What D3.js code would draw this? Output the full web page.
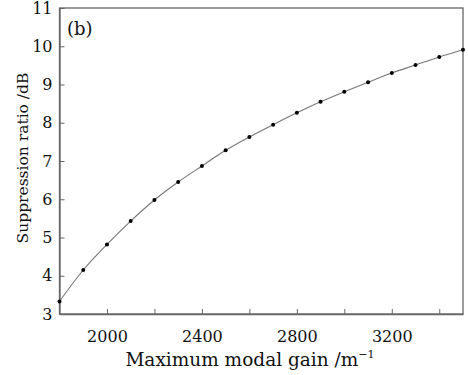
<!DOCTYPE html>
<html>
  <head>
    <meta charset="utf-8">
    <title>Suppression ratio vs modal gain</title>
    <script src="https://d3js.org/d3.v7.min.js"></script>
    <style>
      body { margin: 0; background: #fff; }
      text { font-family: "DejaVu Serif", serif; fill: #111; }
    </style>
  </head>
  <body>
    <div id="vis"></div>
    <script>
        const width = 468;
        const height = 375;

        // values
        const gain = [1800, 1900, 2000, 2100, 2200, 2300, 2400, 2500, 2600,
                      2700, 2800, 2900, 3000, 3100, 3200, 3300, 3400, 3500];
        const ratio = [3.33, 4.15, 4.82, 5.43, 5.98, 6.45, 6.87, 7.28, 7.63,
                       7.95, 8.26, 8.55, 8.81, 9.06, 9.30, 9.51, 9.72, 9.91];
        const xTicks = [2000, 2200, 2400, 2600, 2800, 3000, 3200, 3400];
        const xLabels = [2000, 2400, 2800, 3200];
        const yTicks = [3, 4, 5, 6, 7, 8, 9, 10, 11];

        const margin = {top: 8, right: 5, bottom: 61, left: 59.5};

        const points = gain.map((g, i) => ({g: g, r: ratio[i]}));

        let vis = d3.select('#vis')
                    .append('svg')
                    .attr('width', width)
                    .attr('height', height);

        const x = d3.scaleLinear().domain([1800, 3500])
                    .range([margin.left, width - margin.right]);
        const y = d3.scaleLinear().domain([3, 11])
                    .range([height - margin.bottom, margin.top]);

        // frame
        vis.append("rect")
           .attr("x", x(1800))
           .attr("y", y(11))
           .attr("width", x(3500) - x(1800))
           .attr("height", y(3) - y(11))
           .attr("fill", "none")
           .attr("stroke", "#666")
           .attr("stroke-width", 1.3);

        // x axis, ticks pointing inward
        const xAxis = vis.append("g")
           .attr("transform", `translate(0,${y(3)})`)
           .call(d3.axisBottom(x).tickValues(xTicks).tickSizeInner(-5).tickSizeOuter(0)
                   .tickFormat(d => xLabels.includes(d) ? d : ""));
        xAxis.select(".domain").attr("stroke", "#666").attr("stroke-width", 1.3);
        xAxis.selectAll(".tick line").attr("stroke", "#666");
        xAxis.selectAll("text").attr("font-size", 16).attr("y", 17);

        // y axis
        const yAxis = vis.append("g")
           .attr("transform", `translate(${x(1800)},0)`)
           .call(d3.axisLeft(y).tickValues(yTicks).tickSizeInner(-5).tickSizeOuter(0));
        yAxis.select(".domain").attr("stroke", "#666").attr("stroke-width", 1.3);
        yAxis.selectAll(".tick line").attr("stroke", "#666");
        yAxis.selectAll("text").attr("font-size", 16).attr("x", -7);

        // curve
        const line = d3.line()
                       .x(d => x(d.g))
                       .y(d => y(d.r))
                       .curve(d3.curveMonotoneX);

        vis.append("path")
           .datum(points)
           .attr("d", line)
           .attr("fill", "none")
           .attr("stroke", "#777")
           .attr("stroke-width", 1.1);

        vis.append("g")
           .selectAll("circle")
           .data(points)
           .enter()
           .append("circle")
           .attr("cx", d => x(d.g))
           .attr("cy", d => y(d.r))
           .attr("r", 2)
           .attr("fill", "#000");

        // labels
        vis.append("text")
           .attr("x", 67)
           .attr("y", 35)
           .attr("font-size", 18)
           .text("(b)");

        const xl = vis.append("text")
           .attr("x", 250)
           .attr("y", 366)
           .attr("text-anchor", "middle")
           .attr("font-size", 18.5);
        xl.append("tspan").text("Maximum modal gain /m");
        xl.append("tspan").attr("font-size", 11).attr("dy", -8).text("\u22121");

        vis.append("text")
           .attr("transform", `translate(28,158) rotate(-90)`)
           .attr("text-anchor", "middle")
           .attr("font-size", 15.5)
           .text("Suppression ratio /dB");
    </script>
  </body>
</html>
